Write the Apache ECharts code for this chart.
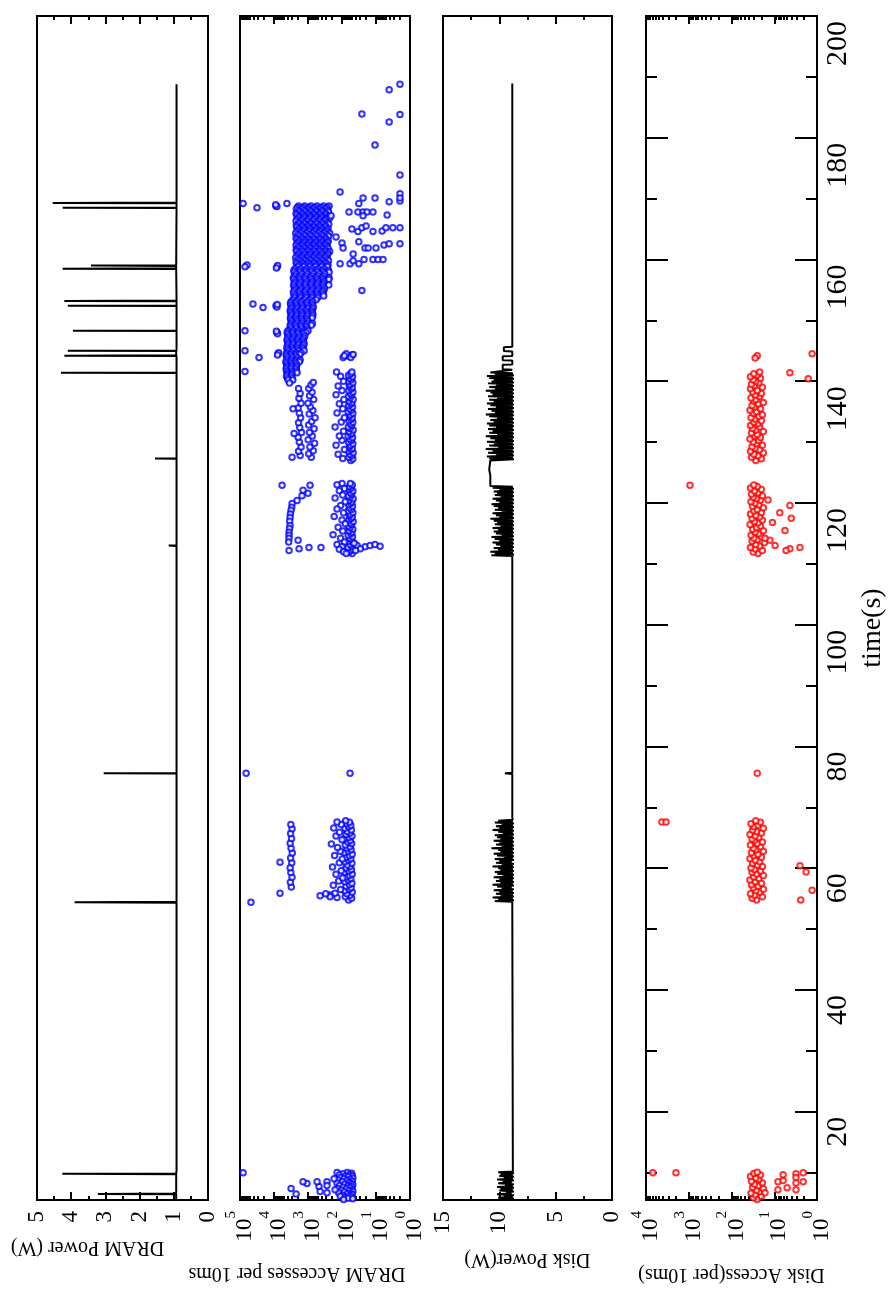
<!DOCTYPE html>
<html>
<head>
<meta charset="UTF-8">
<title>DRAM and disk power / accesses over time</title>
<script src="https://cdn.jsdelivr.net/npm/echarts@6/dist/echarts.min.js"></script>
<style>
  html, body { margin: 0; padding: 0; background: #fff; }
  #chart { width: 889px; height: 1290px; }
</style>
</head>
<body>
<div id="chart"></div>
<script>
// ---- axes ----
const timeMin = 5.5, timeMax = 200;
const timeMajor = [20, 40, 60, 80, 100, 120, 140, 160, 180, 200];
const timeMinor = [10, 30, 50, 70, 90, 110, 130, 150, 170, 190];
const dramPowerTicks = [0, 1, 2, 3, 4, 5];
const dramPowerMinor = [0.5, 1.5, 2.5, 3.5, 4.5];
const dramAccTicks = [1, 10, 100, 1000, 10000, 100000];
const dramAccMinor = [2, 3, 4, 5, 6, 7, 8, 9, 20, 30, 40, 50, 60, 70, 80, 90,
  200, 300, 400, 500, 600, 700, 800, 900, 2000, 3000, 4000, 5000, 6000, 7000, 8000, 9000,
  20000, 30000, 40000, 50000, 60000, 70000, 80000, 90000];
const diskPowerTicks = [0, 5, 10, 15];
const diskPowerMinor = [2.5, 7.5, 12.5];
const diskAccTicks = [1, 10, 100, 1000, 10000];
const diskAccMinor = [2, 3, 4, 5, 6, 7, 8, 9, 20, 30, 40, 50, 60, 70, 80, 90,
  200, 300, 400, 500, 600, 700, 800, 900, 2000, 3000, 4000, 5000, 6000, 7000, 8000, 9000];

// ---- data: [time (s), value] ----
const dramPower = [[5.55,0.93],[6.45,0.93],[6.5,3.22],[6.55,0.93],[9.75,0.93],[9.8,4.26],[9.85,0.93],[10.3,0.92],
  [54.35,0.92],[54.4,3.9],[54.5,0.92],
  [75.55,0.92],[75.6,3.05],[75.65,0.92],[112.95,0.92],[113.0,1.15],[113.05,0.92],
  [127.25,0.92],[127.3,1.55],[127.35,0.92],[141.35,0.92],[141.4,4.3],[141.45,0.92],
  [144.15,0.92],[144.2,4.2],[144.25,0.93],[144.95,0.93],[145.0,4.1],[145.05,0.92],[148.25,0.92],[148.3,3.95],[148.35,0.92],
  [152.35,0.92],[152.4,4.1],[152.45,0.92],[153.15,0.92],[153.2,4.2],[153.25,0.92],
  [158.45,0.93],[158.5,4.25],[158.55,0.93],[158.95,0.93],[159.0,3.42],[159.05,0.93],
  [168.45,0.92],[168.5,4.25],[168.55,0.92],[169.25,0.92],[169.3,4.54],[169.35,0.92],[188.8,0.92]];

const dramAccBurst1 = [[10.0,140],[10.0,70],[9.9,52],[9.8,95],[9.7,60],[9.6,120],[9.5,50],[9.4,80],[9.3,65],[9.2,110],[9.1,48],[9.0,88],
  [8.9,58],[8.8,130],[8.7,72],[8.6,50],[8.5,98],[8.4,62],[8.3,140],[8.2,55],[8.1,84],[8.0,48],[7.9,118],[7.8,66],[7.7,52],[7.6,92],
  [7.5,58],[7.4,135],[7.3,75],[7.2,50],[7.1,104],[7.0,62],[6.9,48],[6.8,86],[6.7,125],[6.6,56],[6.5,70],[6.4,50],[6.3,96],[6.2,60],
  [6.1,112],[6.0,52],[5.9,80],[5.8,66],[5.7,48],[5.6,90],
  [9.98,81000],[9.0,171],[7.2,160],[8.5,276],[7.9,276],[6.7,276],[7.7,475],[6.9,440],[8.5,540],[8.2,1070],[8.5,1400],[6.5,2240],[7.4,3150]];

const dramAccBurst2 = [[54.8,64],[55.05,52],[55.3,80],[55.55,58],[55.8,72],[56.05,50],[56.3,84],[56.55,62],[56.8,54],[57.05,76],[57.3,60],[57.55,51],
  [57.8,82],[58.05,66],[58.3,55],[58.55,74],[58.8,60],[59.05,50],[59.3,86],[59.55,63],[59.8,53],[60.05,78],[60.3,58],[60.55,70],[60.8,51],
  [61.05,82],[61.3,64],[61.55,55],[61.8,75],[62.05,60],[62.3,50],[62.55,84],[62.8,66],[63.05,54],[63.3,72],[63.55,59],[63.8,80],[64.05,52],
  [64.3,68],[64.55,57],[64.8,86],[65.05,62],[65.3,51],[65.55,76],[65.8,58],[66.05,70],[66.3,53],[66.55,82],[66.8,64],[67.05,55],[67.3,74],
  [67.55,60],[67.8,78],
  [55.2,140],[55.6,225],[55.9,160],[56.5,110],[57.2,180],[57.9,125],[58.4,95],[59.0,150],[59.6,105],[60.2,190],[60.9,120],[61.5,98],
  [62.1,165],[62.8,112],[63.4,135],[64.0,205],[64.7,100],[65.3,150],[65.9,118],[66.6,175],[67.2,105],[67.6,140],[55.5,440],[55.3,225],[55.8,300],
  [56.9,3100],[57.7,3300],[58.5,2950],[59.3,3200],[60.1,3350],[60.9,3000],[61.7,3250],[62.5,2900],[63.3,3150],[64.1,3350],[64.9,3050],
  [65.7,3250],[66.5,2950],[67.2,3200],[54.4,47600],[55.9,6650],[61.0,6650],
  [75.6,66000],[75.6,58]];

const dramAccBurst3 = [[111.7,50],[111.95,62],[112.2,55],[112.45,48],[112.7,66],[112.95,52],[113.2,58],[113.45,47],[113.7,64],[113.95,53],
  [114.2,60],[114.45,49],[114.7,66],[114.95,55],[115.2,51],[115.45,62],[115.7,48],[115.95,58],[116.2,65],[116.45,52],[116.7,56],[116.95,47],
  [117.2,63],[117.45,54],[117.7,50],[117.95,61],[118.2,57],[118.45,48],[118.7,66],[118.95,53],[119.2,59],[119.45,49],[119.7,64],[119.95,55],
  [120.2,51],[120.45,62],[120.7,47],[120.95,58],[121.2,65],[121.45,52],[121.7,56],[121.95,48],[122.2,63],[122.45,54],[122.7,60],[122.95,50],[123.2,57],
  [123.2,100],[123.0,140],[122.4,85],[122.0,120],[121.3,95],[120.8,160],[120.2,80],[119.6,110],[119.0,140],[118.4,90],[117.8,170],[117.2,100],
  [116.6,80],[116.0,130],[115.4,95],[114.8,183],[114.2,110],[113.6,85],[113.2,140],[112.8,100],[112.4,120],[112.0,90],[111.7,75],
  [113.0,36],[112.8,21],[113.0,15],[113.2,10.7],[112.9,7.6],[112.5,29],[112.2,40],[113.4,44],
  [122.9,5790],[122.9,870],[121.6,1000],[122.1,1400],[121.2,1500],[120.4,2100],[119.9,2940],[119.3,3000],[118.8,3150],[118.2,3300],
  [117.6,3370],[117.0,3450],[116.3,3370],[115.8,3500],[115.2,3610],[114.7,3600],[114.2,3610],[113.6,3700],[112.2,3610],
  [113.9,1960],[112.5,1830],[112.7,935],[112.7,415]];

const dramAccBurst4 = [[127.0,55],[127.25,48],[127.5,63],[127.75,52],[128.0,58],[128.25,47],[128.5,65],[128.75,54],[129.0,50],[129.25,61],
  [129.5,56],[129.75,48],[130.0,64],[130.25,53],[130.5,59],[130.75,49],[131.0,66],[131.25,55],[131.5,51],[131.75,62],[132.0,47],[132.25,58],
  [132.5,65],[132.75,52],[133.0,56],[133.25,48],[133.5,63],[133.75,54],[134.0,50],[134.25,61],[134.5,57],[134.75,48],[135.0,66],[135.25,53],
  [135.5,59],[135.75,49],[136.0,64],[136.25,55],[136.5,51],[136.75,62],[137.0,47],[137.25,58],[137.5,65],[137.75,52],[138.0,56],[138.25,48],
  [138.5,63],[138.75,54],[139.0,50],[139.25,61],[139.5,57],[139.75,48],[140.0,66],[140.25,53],[140.5,59],[140.75,49],[141.0,64],[141.25,55],[141.5,51],
  [127.3,95],[128.0,130],[128.8,85],[129.5,150],[130.3,100],[131.0,120],[131.8,90],[132.5,160],[133.3,105],[134.0,85],[134.8,140],[135.5,95],
  [136.3,120],[137.0,88],[137.8,150],[138.5,100],[139.2,130],[140.0,90],[140.8,110],[141.5,145],
  [143.9,93],[144.1,62],[144.3,50],[144.5,75],[144.2,85],[143.9,55],[144.4,47],
  [127.8,1700],[128.5,1900],[129.2,1600],[130.0,1800],[130.8,1950],[131.6,1550],[132.4,1750],[133.2,1900],[134.0,1650],[134.8,1800],
  [135.6,1950],[136.4,1600],[137.2,1850],[138.0,1700],[138.8,1900],
  [127.5,800],[128.1,950],[128.6,700],[129.2,880],[129.8,640],[130.4,990],[131.0,750],[131.6,900],[132.2,660],[132.8,960],[133.4,780],
  [134.0,620],[134.6,920],[135.2,720],[135.8,860],[136.4,1000],[137.0,680],[137.6,900],[138.2,760],[138.8,950],[139.4,820],[139.8,700],
  [135.5,2750],[131.4,2560],[127.5,2940]];

// main cluster after 140 s, one row per time: [time, [counts...]]
const dramAccBlobRows = [
  [168.8,[1900,1250,820,540,350,240]], [168.55,[2050,1380,920,610,400,270]], [168.3,[2200,1500,1000,680,450,300]],
  [168.05,[1950,1300,880,590,395,260]], [167.8,[1800,1200,800,560,380,250]], [167.55,[2250,1520,1020,690,460,305]],
  [167.3,[2100,1400,950,650,430,290]], [167.05,[1850,1260,850,570,385,255]], [166.8,[1900,1300,880,600,400,260,230]],
  [166.55,[2150,1450,980,660,445,300]], [166.3,[2250,1550,1050,700,470,320]], [166.05,[1900,1290,870,585,390,262]],
  [165.8,[1850,1250,830,560,370,245]], [165.55,[2200,1500,1010,680,455,305]], [165.3,[2150,1450,980,660,440,300]],
  [165.05,[1880,1270,860,575,385,258]], [164.8,[1950,1320,900,610,410,270]], [164.55,[2120,1430,960,650,435,292]],
  [164.3,[2300,1600,1080,720,480,330,230]], [164.05,[2000,1350,910,615,410,275]], [163.8,[1800,1220,820,550,370,250]],
  [163.55,[2250,1520,1020,690,460,310]], [163.3,[2100,1420,960,650,440,295]], [163.05,[1870,1260,850,570,380,255]],
  [162.8,[1950,1300,880,590,400,265]], [162.55,[2150,1450,980,660,445,300]], [162.3,[2250,1520,1020,690,460,310]],
  [162.05,[1980,1340,900,610,410,275]], [161.8,[1850,1260,850,570,385,255]], [161.55,[2230,1500,1010,680,455,305]],
  [161.3,[2150,1460,990,670,450,300,230]], [161.05,[1880,1270,860,580,390,260]], [160.8,[1900,1290,870,590,395,265]],
  [160.55,[2120,1440,970,655,440,296]], [160.3,[2300,1560,1050,710,475,320]], [160.05,[2000,1350,910,615,412,276]],
  [159.8,[1800,1230,830,560,375,250]], [159.55,[2240,1510,1015,685,458,308]], [159.3,[2100,1430,970,650,440,295]],
  [159.05,[1870,1265,855,575,385,258]], [158.8,[1950,1320,890,600,400,270]], [158.5,[2400,1650,1100,750,500,335]],
  [158.2,[2600,1800,1200,820,550,370,250]], [157.9,[2550,1720,1160,790,530,355,240]], [157.6,[2300,1550,1050,700,470,320]],
  [157.3,[2450,1680,1130,770,515,345]], [157.0,[2700,1850,1250,850,570,380,240]], [156.7,[2600,1760,1190,800,535,360,245]],
  [156.4,[2400,1650,1100,750,500,340]], [156.1,[2500,1700,1150,780,520,350]], [155.8,[2650,1800,1200,810,540,360,245]],
  [155.5,[2550,1730,1170,790,530,355]], [155.2,[2350,1600,1080,730,490,330]], [154.9,[2500,1700,1150,770,520,350]],
  [154.6,[2700,1850,1240,840,560,375]], [154.3,[2600,1770,1190,800,540,360]], [154.0,[2400,1650,1120,760,510,345]],
  [153.7,[2550,1720,1160,780,525]], [153.4,[2750,1900,1280,860,580]], [153.1,[3100,2150,1500,1030,720]],
  [152.8,[3300,2300,1600,1100,760]], [152.5,[3200,2200,1530,1050,740]], [152.2,[3000,2100,1450,980,700]],
  [151.9,[3150,2180,1520,1040,730]], [151.6,[3350,2350,1650,1150,780]], [151.3,[3250,2250,1560,1070,750]],
  [151.0,[3050,2150,1500,1020,720]], [150.7,[3150,2200,1520,1040,730]], [150.4,[3300,2300,1600,1100,760]],
  [150.1,[3200,2230,1540,1060]], [149.8,[3000,2100,1450,1000]], [149.5,[3150,2180,1500,1030,740]],
  [149.2,[3350,2350,1650,1150,800]], [148.9,[3250,2250,1580,1100]], [148.6,[3100,2200,1500,1050]],
  [148.3,[3900,2750,1900,1320,1000]], [148.0,[4100,2900,2000,1400,1150]], [147.7,[3950,2800,1950,1350]],
  [147.4,[3700,2600,1800,1250]], [147.1,[3900,2750,1900,1330]], [146.8,[4150,2950,2050,1420]],
  [146.5,[4000,2850,1980,1380]], [146.2,[3800,2700,1850,1300]], [145.9,[3950,2800,1950,1350]],
  [145.6,[4200,3000,2100,1450]], [145.3,[4050,2850,2000,1400]], [145.0,[3850,2700,1900,1300]],
  [144.7,[4200,3050,2200,1600]], [144.4,[4400,3200,2300,1750]], [144.1,[4250,3100,2250]],
  [143.8,[4000,2900,2050]], [143.5,[4200,3050,2200,1700]], [143.2,[4500,3300,2400,1800]],
  [142.9,[4300,3100,2250]], [142.6,[4100,3000,2150]], [142.3,[4200,3050,2200]], [142.0,[4400,3200,2300]],
  [141.7,[4250,3100,2200]], [141.4,[4000,2900,2100]], [141.1,[4100,3000]], [140.8,[4300,3100]],
  [140.5,[4000,2900]], [140.2,[3800,2800]], [139.7,[3500]]
];

const dramAccScatter = [[169.2,81300],[168.5,31600],[168.8,8740],[168.7,8200],[169.0,8900],[169.2,4170],
  [159.1,62200],[158.8,71400],[158.8,8130],[159.0,7800],[158.6,8500],
  [152.7,41500],[152.1,21000],[152.4,8740],[152.2,8200],[152.6,8000],
  [148.3,71400],[148.0,8130],[147.8,7900],[148.2,8500],
  [145.0,71400],[143.9,27600],[144.5,7590],[144.7,7300],[144.3,7900],[141.6,71400],
  [188.8,1.97],[187.9,4.1],[183.9,26],[182.6,4.1],[183.8,1.97],[178.8,10.7],[173.9,1.97],[171.1,114],
  [170.1,10.7],[170.1,24],[169.2,32],[169.5,4.1],[170.8,1.97],[169.6,1.97],[170.1,1.97],
  [167.8,62],[167.8,34],[167.8,24],[167.8,18.5],[167.8,12.3],[167.3,4.7],[167.2,210],[167.2,24],
  [165.0,51],[164.6,34],[165.2,26],[165.5,19.6],[164.6,12.3],[164.7,6.6],[165.2,5.1],[165.2,3.2],[165.2,1.97],
  [163.7,150],[162.7,100],[161.9,93],[162.9,32],[161.9,21],[161.9,17],[161.9,10],[162.4,5.8],[162.6,4.1],[162.6,1.97],
  [160.9,47],[159.3,114],[159.3,58],[159.8,47],[159.3,32],[160.0,22.5],[160.0,12.3],[160.0,8.7],[160.0,6.2],[154.9,26]];

// disk power: busy stretches logged every 0.15 s, quiet stretches as [time, W]
const diskSamplePeriod = 0.15;
const diskPowerBusy = [
  { start: 5.55, watts: [9.8,8.7,10.1,8.8,9.6,8.7,10.2,8.9,9.4,8.7,10.0,8.8,9.9,8.7,10.2,8.8,9.5,8.7,10.1,8.9,9.7,8.7,10.2,8.8,
    9.6,8.7,10.0,8.8,9.9,8.7,10.1,8.8] },
  { start: 54.6, watts: [10.4,8.7,10.1,8.8,10.6,8.7,9.9,8.8,10.3,8.7, 10.0,8.8,10.5,8.7,9.8,8.9,10.2,8.7,10.6,8.8,
    9.9,8.7,10.3,8.8,10.0,8.7,10.5,8.8,9.7,8.7, 10.2,8.8,10.4,8.7,9.9,8.8,10.1,8.7,10.6,8.8,
    9.8,8.7,10.3,8.9,10.0,8.7,10.4,8.8,9.6,8.7, 10.2,8.8,10.5,8.7,9.9,8.8,10.1,8.7,10.7,8.8,
    9.8,8.7,10.3,8.8,10.0,8.7,10.5,8.8,9.9,8.7, 10.2,8.8,10.4,8.7,9.7,8.8,10.1,8.7,10.6,8.8,
    10.0,8.7,10.3,8.8,9.8,8.7,10.4,8.8,10.1,8.8] },
  { start: 111.4, watts: [10.7,8.7,10.4,8.8,10.8,8.7,10.1,8.8,10.5,8.7, 9.9,8.8,10.3,8.7,10.6,8.8,10.0,8.7,10.4,8.8,
    10.7,8.7,9.8,8.8,10.3,8.7,10.5,8.8,10.1,8.7, 10.6,8.8,9.9,8.7,10.4,8.8,10.2,8.7,10.5,8.8,
    10.8,8.7,10.0,8.8,10.3,8.7,10.6,8.8,9.8,8.7, 10.4,8.8,10.1,8.7,10.5,8.8,10.7,8.7,10.0,8.8,
    10.3,8.7,10.6,8.8,9.9,8.7,10.4,8.8,10.2,8.7, 10.5,8.8,10.0,8.7,10.6,8.8,10.8] },
  { start: 127.2, watts: [8.7,10.9,8.8,11.1,8.7,10.3,8.8,11.0,8.7,10.6, 8.8,11.2,8.7,10.1,8.8,10.9,8.7,10.5,8.8,11.1,
    8.7,10.4,8.8,10.8,8.7,11.2,8.8,10.2,8.7,10.9, 8.8,10.6,8.7,11.0,8.8,10.3,8.7,10.9,8.8,11.1,
    8.7,10.5,8.8,10.8,8.7,10.2,8.8,10.9,8.7,11.2, 8.8,10.4,8.7,10.7,8.8,11.0,8.7,10.3,8.8,10.8,
    8.7,11.1,8.8,10.5,8.7,10.9,8.8,10.2,8.7,11.0, 8.8,10.6,8.7,10.8,8.8,11.2,8.7,10.4,8.8,10.9,
    8.7,10.3,8.8,11.0,8.7,10.7,8.8,10.5,8.7,10.9, 8.8,11.1,8.7,10.4,8.8,10.8] }
];
const diskPowerQuiet = [[10.5,8.85],[54.5,8.85],[68.3,8.85],[75.5,8.85],[75.6,9.5],[75.7,8.85],[111.3,8.85],
  [123.0,10.8],[124.5,10.8],[125.5,10.9],[127.0,10.8],
  [141.9,8.85],[141.95,9.7],[142.7,9.7],[142.75,8.85],[143.4,8.85],[143.45,9.7],[144.1,9.7],[144.15,8.85],
  [144.9,8.85],[144.95,9.6],[145.6,9.6],[145.65,8.85],[188.9,8.85]];

const diskAccBurst1 = [[5.6,25],[5.85,31],[6.1,20],[6.35,28],[6.6,35],[6.85,22],[7.1,26],[7.35,18],[7.6,32],[7.85,24],[8.1,29],[8.35,19],
  [8.6,34],[8.85,23],[9.1,27],[9.35,36],[9.6,21],[9.85,30],[10.05,25],
  [9.98,6900],[9.98,1990],[6.7,16.5],[8.5,8.2],[7.2,8.2],[9.65,6.2],[8.7,6.2],[7.5,5.0],[9.8,3.1],[9.2,3.1],[8.3,3.1],[7.2,3.1],[9.98,2.1],[8.5,2.1]];

const diskAccBurst2 = [[54.8,26],[55.05,33],[55.3,19],[55.55,29],[55.8,36],[56.05,22],[56.3,27],[56.55,18],[56.8,31],[57.05,24],[57.3,34],
  [57.55,20],[57.8,28],[58.05,37],[58.3,23],[58.55,30],[58.8,18],[59.05,26],[59.3,33],[59.55,21],[59.8,29],[60.05,35],[60.3,19],[60.55,25],
  [60.8,32],[61.05,22],[61.3,28],[61.55,37],[61.8,20],[62.05,30],[62.3,24],[62.55,34],[62.8,18],[63.05,27],[63.3,31],[63.55,21],[63.8,36],
  [64.05,25],[64.3,19],[64.55,29],[64.8,33],[65.05,23],[65.3,28],[65.55,37],[65.8,20],[66.05,26],[66.3,32],[66.55,18],[66.8,30],[67.05,24],
  [67.3,35],[67.55,21],[67.8,27],
  [67.6,4240],[67.6,3400],[60.4,2.5],[59.4,1.8],[56.4,1.3],[54.8,2.4],[75.6,25]];

const diskAccBurst3 = [[111.7,24],[111.95,31],[112.2,19],[112.45,28],[112.7,36],[112.95,22],[113.2,27],[113.45,17],[113.7,33],[113.95,25],
  [114.2,30],[114.45,20],[114.7,35],[114.95,23],[115.2,28],[115.45,18],[115.7,32],[115.95,26],[116.2,21],[116.45,37],[116.7,24],[116.95,29],
  [117.2,19],[117.45,33],[117.7,22],[117.95,27],[118.2,36],[118.45,20],[118.7,30],[118.95,25],[119.2,18],[119.45,32],[119.7,23],[119.95,28],
  [120.2,35],[120.45,21],[120.7,26],[120.95,31],[121.2,19],[121.45,34],[121.7,24],[121.95,29],[122.2,20],[122.45,36],[122.7,25],[122.95,30],
  [122.9,935],[119.6,4.3],[118.4,7.4],[115.5,5.6],[113.9,12.6],[113.0,9.6],[112.5,4.3],[112.7,2.5],[112.2,5.3],[114.2,16.5],
  [116.8,11],[120.5,14],[117.5,4]];

const diskAccBurst4 = [[127.0,27],[127.25,20],[127.5,34],[127.75,24],[128.0,30],[128.25,18],[128.5,36],[128.75,22],[129.0,28],[129.25,33],
  [129.5,19],[129.75,26],[130.0,31],[130.25,23],[130.5,37],[130.75,21],[131.0,29],[131.25,25],[131.5,34],[131.75,18],[132.0,27],[132.25,32],
  [132.5,22],[132.75,36],[133.0,24],[133.25,30],[133.5,20],[133.75,28],[134.0,35],[134.25,23],[134.5,19],[134.75,31],[135.0,26],[135.25,37],
  [135.5,21],[135.75,29],[136.0,33],[136.25,24],[136.5,18],[136.75,30],[137.0,27],[137.25,35],[137.5,22],[137.75,28],[138.0,20],[138.25,32],
  [138.5,25],[138.75,36],[139.0,19],[139.25,29],[139.5,34],[139.75,23],[140.0,27],[140.25,31],[140.5,21],[140.75,36],[141.0,25],[141.25,30],
  [141.5,22],[141.4,4.3],[140.4,1.6],[144.5,1.3],[144.2,25],[143.8,28]];

// ---- build ----
const serif = 'Liberation Serif';
const swap = list => list.map(p => [p[1], p[0]]);
const blobPoints = [];
dramAccBlobRows.forEach(r => r[1].forEach(v => blobPoints.push([v, r[0]])));
const diskPowerPoints = diskPowerQuiet.slice();
diskPowerBusy.forEach(b => b.watts.forEach((w, i) => diskPowerPoints.push([+(b.start + i * diskSamplePeriod).toFixed(2), w])));
diskPowerPoints.sort((a, b) => a[0] - b[0]);

const grids = [
  { left: 37, top: 16, width: 171, height: 1184 },
  { left: 240, top: 16, width: 170, height: 1184 },
  { left: 443, top: 16, width: 169, height: 1184 },
  { left: 646, top: 16, width: 171, height: 1184 }
].map(g => Object.assign(g, { show: true, borderColor: '#000', borderWidth: 2, outerBoundsMode: 'none' }));

const tickStyle = { color: '#000', width: 2 };
const supRich = {
  b: { fontFamily: serif, fontSize: 23, color: '#000', padding: [10, 0, 0, 0], verticalAlign: 'bottom' },
  s: { fontFamily: serif, fontSize: 15, color: '#000', verticalAlign: 'top' }
};
const powerOfTen = v => '{b|10}{s|' + Math.round(Math.log10(v)) + '}';

// four x axes per panel: bottom major (labels, name), bottom minor, top major, top minor
function valueAxes(gi, type, min, max, major, minor, fmt, name, gap, shift) {
  const base = { gridIndex: gi, type: type, min: min, max: max, inverse: true,
    axisLine: { show: false }, splitLine: { show: false } };
  if (type === 'log') base.logBase = 10;
  const tick = (vals, len) => ({ inside: true, length: len, lineStyle: tickStyle, customValues: vals });
  return [
    Object.assign({}, base, { position: 'bottom', axisTick: tick(major, 8),
      axisLabel: { customValues: major, rotate: 90, margin: 11, formatter: fmt, color: '#000',
        fontFamily: serif, fontSize: 23, rich: supRich },
      name: name, nameLocation: 'middle', nameRotate: 180, nameGap: gap,
      nameTextStyle: { fontFamily: serif, fontSize: 20, color: '#000', padding: [0, 0, 0, shift] } }),
    Object.assign({}, base, { position: 'bottom', axisTick: tick(minor, 4), axisLabel: { show: false } }),
    Object.assign({}, base, { position: 'top', axisTick: tick(major, 8), axisLabel: { show: false } }),
    Object.assign({}, base, { position: 'top', axisTick: tick(minor, 4), axisLabel: { show: false } })
  ];
}

const xAxes = [].concat(
  valueAxes(0, 'value', 0, 5, dramPowerTicks, dramPowerMinor, v => String(v), 'DRAM Power (W)', 37, 70),
  valueAxes(1, 'log', 1, 100000, dramAccTicks, dramAccMinor, powerOfTen, 'DRAM Accesses per 10ms', 63, 56),
  valueAxes(2, 'value', 0, 15, diskPowerTicks, diskPowerMinor, v => String(v), 'Disk Power(W)', 49, 0),
  valueAxes(3, 'log', 1, 10000, diskAccTicks, diskAccMinor, powerOfTen, 'Disk Access(per 10ms)', 64, 0)
);

const timeBase = { type: 'value', min: timeMin, max: timeMax, splitLine: { show: false }, axisLine: { show: false } };
const yAxes = [
  Object.assign({ gridIndex: 0, show: false }, timeBase),
  Object.assign({ gridIndex: 1, show: false }, timeBase),
  Object.assign({ gridIndex: 2, show: false }, timeBase),
  Object.assign({ gridIndex: 3, position: 'left', axisLabel: { show: false },
    axisTick: { inside: true, length: 22, lineStyle: tickStyle, customValues: timeMajor } }, timeBase),
  Object.assign({ gridIndex: 3, position: 'left', axisLabel: { show: false },
    axisTick: { inside: true, length: 11, lineStyle: tickStyle, customValues: timeMinor } }, timeBase),
  Object.assign({ gridIndex: 3, position: 'right',
    axisTick: { inside: true, length: 22, lineStyle: tickStyle, customValues: timeMajor },
    axisLabel: { customValues: timeMajor, rotate: 90, align: 'right', verticalAlign: 'top', margin: 6,
      padding: [0, 5, 0, 0], color: '#000', fontFamily: serif, fontSize: 30 },
    name: 'time(s)', nameLocation: 'middle', nameRotate: 90, nameGap: 42,
    nameTextStyle: { fontFamily: serif, fontSize: 28, color: '#000', padding: [0, 40, 0, 0] } }, timeBase),
  Object.assign({ gridIndex: 3, position: 'right', axisLabel: { show: false },
    axisTick: { inside: true, length: 11, lineStyle: tickStyle, customValues: timeMinor } }, timeBase)
];

const ring = color => ({ type: 'scatter', symbol: 'emptyCircle', symbolSize: 5.5, progressive: 0,
  itemStyle: { color: color, borderWidth: 2.3 } });

const chart = echarts.init(document.getElementById('chart'));
chart.setOption({
  animation: false,
  backgroundColor: '#fff',
  grid: grids,
  xAxis: xAxes,
  yAxis: yAxes,
  series: [
    { type: 'line', xAxisIndex: 0, yAxisIndex: 0, data: swap(dramPower), symbol: 'none',
      lineStyle: { color: '#000', width: 2 } },
    Object.assign(ring('#0000ff'), { xAxisIndex: 4, yAxisIndex: 1,
      data: [].concat(swap(dramAccBurst1), swap(dramAccBurst2), swap(dramAccBurst3), swap(dramAccBurst4),
        blobPoints, swap(dramAccScatter)) }),
    { type: 'line', xAxisIndex: 8, yAxisIndex: 2, data: swap(diskPowerPoints), symbol: 'none',
      lineStyle: { color: '#000', width: 2 } },
    Object.assign(ring('#ff0000'), { xAxisIndex: 12, yAxisIndex: 3,
      data: [].concat(swap(diskAccBurst1), swap(diskAccBurst2), swap(diskAccBurst3), swap(diskAccBurst4)) })
  ]
});
</script>
</body>
</html>
